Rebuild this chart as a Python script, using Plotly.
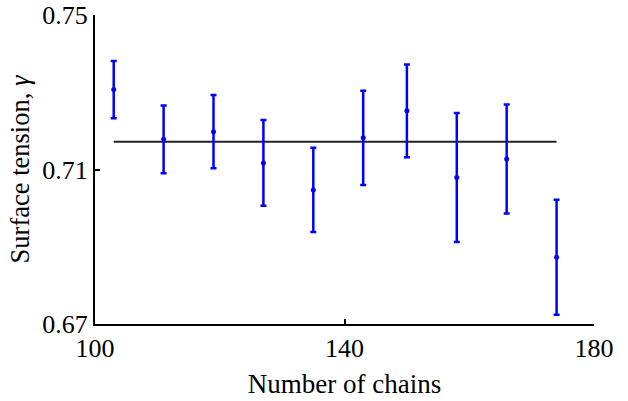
import plotly.graph_objects as go

# Surface tension measured against system size
n_chains = [103, 111, 119, 127, 135, 143, 150, 158, 166, 174]
gamma = [0.7307, 0.7178, 0.7198, 0.7117, 0.7047, 0.7182, 0.7252, 0.7079, 0.7127, 0.6873]
gamma_err = [0.0074, 0.0088, 0.0095, 0.0111, 0.0109, 0.0122, 0.0120, 0.0167, 0.0141, 0.0149]
gamma_mean = 0.7172

x_ticks = [100, 140, 180]
y_ticks = [0.67, 0.71, 0.75]

font_family = "Liberation Serif"

fig = go.Figure()

# mean value across the sampled sizes
fig.add_trace(go.Scatter(
    x=[n_chains[0], n_chains[-1]],
    y=[gamma_mean, gamma_mean],
    mode="lines",
    line=dict(color="#222222", width=2),
    showlegend=False,
    hoverinfo="skip",
))

fig.add_trace(go.Scatter(
    x=n_chains,
    y=gamma,
    mode="markers",
    marker=dict(color="#0000ff", size=5),
    error_y=dict(type="data", array=gamma_err, visible=True,
                 color="#0000ff", thickness=2.5, width=3),
    showlegend=False,
))

fig.update_layout(
    width=628,
    height=401,
    margin=dict(l=95, r=34, t=15, b=77),
    paper_bgcolor="white",
    plot_bgcolor="white",
    font=dict(family=font_family, size=26, color="black"),
)

fig.update_xaxes(
    range=[100, 180],
    tickvals=x_ticks,
    ticktext=[str(v) for v in x_ticks],
    ticks="inside",
    ticklen=5,
    tickwidth=2,
    tickcolor="black",
    showline=True,
    linecolor="black",
    linewidth=2,
    showgrid=False,
    zeroline=False,
    automargin=False,
    tickfont=dict(size=26),
    title=dict(text="Number of chains", font=dict(size=27), standoff=12),
)

fig.update_yaxes(
    range=[0.67, 0.75],
    tickvals=y_ticks,
    ticktext=["%.2f" % v for v in y_ticks],
    ticks="inside",
    ticklen=5,
    tickwidth=2,
    tickcolor="black",
    showline=True,
    linecolor="black",
    linewidth=2,
    showgrid=False,
    zeroline=False,
    automargin=False,
    tickfont=dict(size=26),
    title=dict(text="Surface tension, <i>γ</i>", font=dict(size=26.5), standoff=5),
)

fig.write_html("out.html")
